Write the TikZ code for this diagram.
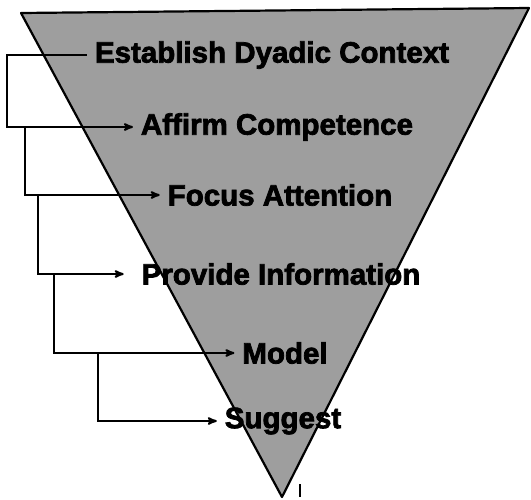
\documentclass[tikz,border=0pt]{standalone}
\usepackage{fontspec}
\setmainfont{Liberation Sans}
\newfontfamily\lblfont{Liberation Sans}[UprightFont=* Bold,FakeBold=2.5]
\usetikzlibrary{arrows}

\begin{document}
\begin{tikzpicture}[x=1pt,y=-1pt,line width=2pt,>=stealth']
    \tikzstyle{step label}=[font=\lblfont\fontsize{29.5}{31}\selectfont,inner sep=0pt,outer sep=8pt]
    \tikzstyle{link}=[->,shorten >=0pt]

    \useasboundingbox (0,0) rectangle (531,499);

    \filldraw[fill=black!38,line width=2.2pt,line join=round] (21,13) -- (529,8) -- (282,497) -- cycle;
    \draw[line width=2.6pt] (300,484) -- (300,497);

    \node[step label] (est) at (272,55) {Establish Dyadic Context};
    \node[step label] (aff) at (277,127) {Affirm Competence};
    \node[step label] (foc) at (280,195) {Focus Attention};
    \node[step label] (pro) at (281,274) {Provide Information};
    \node[step label] (mod) at (285,353) {Model};
    \node[step label] (sug) at (283,421) {Suggest};

    \coordinate (c1) at (7,55);
    \coordinate (c2) at (25,127);
    \coordinate (c3) at (38,195);
    \coordinate (c4) at (54,274);
    \coordinate (c5) at (98,353);

    \draw[link] (est.west) -- (c1) |- (aff.west);
    \draw[link] (c2) |- (foc.west);
    \draw[link] (c3) |- ([xshift=-10pt]pro.west);
    \draw[link] (c4) |- (mod.west);
    \draw[link] (c5) |- (sug.west);
\end{tikzpicture}
\end{document}
